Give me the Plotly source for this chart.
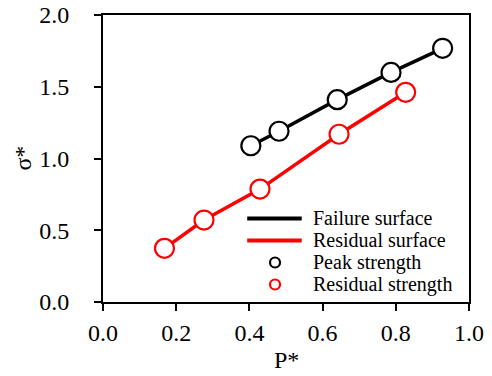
import plotly.graph_objects as go

peak_p = [0.404, 0.481, 0.640, 0.787, 0.928]
peak_s = [1.089, 1.19, 1.41, 1.60, 1.768]
res_p = [0.168, 0.276, 0.429, 0.645, 0.827]
res_s = [0.374, 0.571, 0.787, 1.169, 1.461]

x_ticks = [0.0, 0.2, 0.4, 0.6, 0.8, 1.0]
y_ticks = [0.0, 0.5, 1.0, 1.5, 2.0]
legend_labels = ["Failure surface", "Residual surface", "Peak strength", "Residual strength"]
x_title = "P*"
y_title = "σ*"

FONT = "Times New Roman, Liberation Serif, serif"

fig = go.Figure()
fig.add_trace(go.Scatter(x=peak_p, y=peak_s, mode="lines+markers",
                         line=dict(color="black", width=3.5),
                         marker=dict(symbol="circle", size=19, color="white",
                                     line=dict(color="black", width=2.2)),
                         showlegend=False, cliponaxis=False))
fig.add_trace(go.Scatter(x=res_p, y=res_s, mode="lines+markers",
                         line=dict(color="#ff0000", width=3.5),
                         marker=dict(symbol="circle", size=19, color="white",
                                     line=dict(color="#ff0000", width=2.2)),
                         showlegend=False, cliponaxis=False))

axis_common = dict(showline=True, linecolor="black", linewidth=2, mirror=True,
                   ticks="outside", ticklen=7, tickwidth=2, tickcolor="black",
                   showgrid=False, zeroline=False, automargin=False,
                   tickfont=dict(family=FONT, size=24, color="black"),
                   tickformat=".1f")

fig.update_xaxes(range=[0, 1], tickvals=x_ticks, ticklabelstandoff=1, **axis_common)
fig.update_yaxes(range=[0, 2], tickvals=y_ticks, ticklabelstandoff=20, **axis_common)

# manual legend
rows_y = [0.291, 0.2143, 0.1376, 0.061]
colors = ["black", "#ff0000", "black", "#ff0000"]
shapes = []
for i in range(2):
    shapes.append(dict(type="line", xref="paper", yref="paper", x0=0.394, x1=0.543,
                       y0=rows_y[i], y1=rows_y[i], line=dict(color=colors[i], width=4)))
for i in range(2, 4):
    shapes.append(dict(type="circle", xref="paper", yref="paper", xsizemode="pixel",
                       ysizemode="pixel", xanchor=0.470, yanchor=rows_y[i],
                       x0=-5, x1=5, y0=-5, y1=5, line=dict(color=colors[i], width=2.2),
                       fillcolor="white"))
annotations = []
for i, lab in enumerate(legend_labels):
    annotations.append(dict(text=lab, xref="paper", yref="paper", x=0.567, y=rows_y[i],
                            xanchor="left", yanchor="middle", showarrow=False,
                            font=dict(family=FONT, size=20, color="black")))
annotations.append(dict(text=x_title, xref="paper", yref="paper", x=0.5, y=-0.202,
                        xanchor="center", yanchor="middle", showarrow=False,
                        font=dict(family=FONT, size=24, color="black")))
annotations.append(dict(text=y_title, xref="paper", yref="paper", x=-0.221, y=0.5,
                        xanchor="center", yanchor="middle", showarrow=False, textangle=-90,
                        font=dict(family=FONT, size=24, color="black")))

fig.update_layout(width=492, height=376, margin=dict(l=103, r=23, t=15, b=74, autoexpand=False),
                  paper_bgcolor="white", plot_bgcolor="white",
                  shapes=shapes, annotations=annotations,
                  font=dict(family=FONT, color="black"))

fig.write_html("out.html")
